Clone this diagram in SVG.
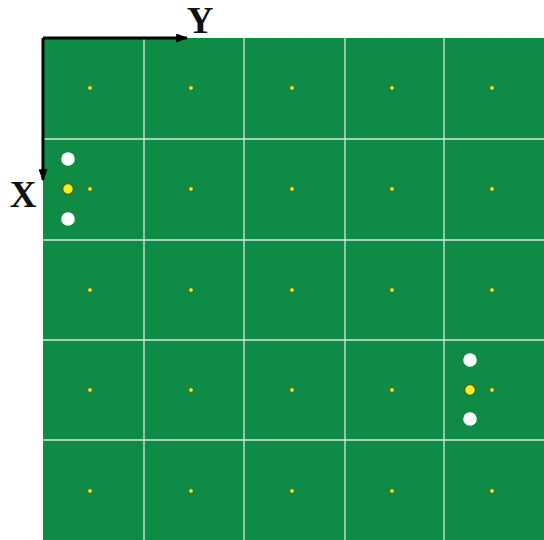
<svg xmlns="http://www.w3.org/2000/svg" width="544" height="540" viewBox="0 0 544 540">
<style>
.grid{stroke:#d8e8dc;stroke-width:1.3}
.dot{fill:#e8e82a;stroke:#2f5a25;stroke-width:0.8}
.wc{fill:#ffffff}
.yc{fill:#f0f020;stroke:#4a6a20;stroke-width:1.5}
.ax{stroke:#000;stroke-width:3;fill:none}
.lbl{font-family:"Liberation Serif",serif;font-weight:bold;font-size:37px;fill:#111}
</style>
<defs>
<marker id="ah" markerWidth="4" markerHeight="3" refX="3.6" refY="1.5" orient="auto" markerUnits="strokeWidth"><path d="M0,0 L4,1.5 L0,3 z" fill="#000"/></marker>
</defs>
<rect width="544" height="540" fill="#fff"/>
<g id="field">
<rect x="43" y="38" width="501" height="502" fill="#0e8b45"/>
<g class="grid">
<line x1="144" y1="38" x2="144" y2="540"/>
<line x1="244" y1="38" x2="244" y2="540"/>
<line x1="345" y1="38" x2="345" y2="540"/>
<line x1="444" y1="38" x2="444" y2="540"/>
<line x1="43" y1="139" x2="544" y2="139"/>
<line x1="43" y1="240" x2="544" y2="240"/>
<line x1="43" y1="340" x2="544" y2="340"/>
<line x1="43" y1="440" x2="544" y2="440"/>
</g>
</g>
<g id="dots">
<circle class="dot" cx="90" cy="88" r="2.4"/><circle class="dot" cx="191" cy="88" r="2.4"/><circle class="dot" cx="292" cy="88" r="2.4"/><circle class="dot" cx="392" cy="88" r="2.4"/><circle class="dot" cx="492" cy="88" r="2.4"/>
<circle class="dot" cx="90" cy="189" r="2.4"/><circle class="dot" cx="191" cy="189" r="2.4"/><circle class="dot" cx="292" cy="189" r="2.4"/><circle class="dot" cx="392" cy="189" r="2.4"/><circle class="dot" cx="492" cy="189" r="2.4"/>
<circle class="dot" cx="90" cy="290" r="2.4"/><circle class="dot" cx="191" cy="290" r="2.4"/><circle class="dot" cx="292" cy="290" r="2.4"/><circle class="dot" cx="392" cy="290" r="2.4"/><circle class="dot" cx="492" cy="290" r="2.4"/>
<circle class="dot" cx="90" cy="390" r="2.4"/><circle class="dot" cx="191" cy="390" r="2.4"/><circle class="dot" cx="292" cy="390" r="2.4"/><circle class="dot" cx="392" cy="390" r="2.4"/><circle class="dot" cx="492" cy="390" r="2.4"/>
<circle class="dot" cx="90" cy="491" r="2.4"/><circle class="dot" cx="191" cy="491" r="2.4"/><circle class="dot" cx="292" cy="491" r="2.4"/><circle class="dot" cx="392" cy="491" r="2.4"/><circle class="dot" cx="492" cy="491" r="2.4"/>
</g>
<g id="group1">
<circle class="wc" cx="68" cy="159" r="6.8"/>
<circle class="yc" cx="68" cy="189" r="5.5"/>
<circle class="wc" cx="68" cy="219" r="6.8"/>
</g>
<g id="group2">
<circle class="wc" cx="470" cy="360" r="6.8"/>
<circle class="yc" cx="470" cy="390" r="5.5"/>
<circle class="wc" cx="470" cy="419" r="6.8"/>
</g>
<g id="axes">
<path class="ax" d="M43,38 H187" marker-end="url(#ah)"/>
<path class="ax" d="M43,38 V180" marker-end="url(#ah)"/>
</g>
<text class="lbl" x="200" y="33" text-anchor="middle">Y</text>
<text class="lbl" x="23" y="207" text-anchor="middle">X</text>
</svg>
